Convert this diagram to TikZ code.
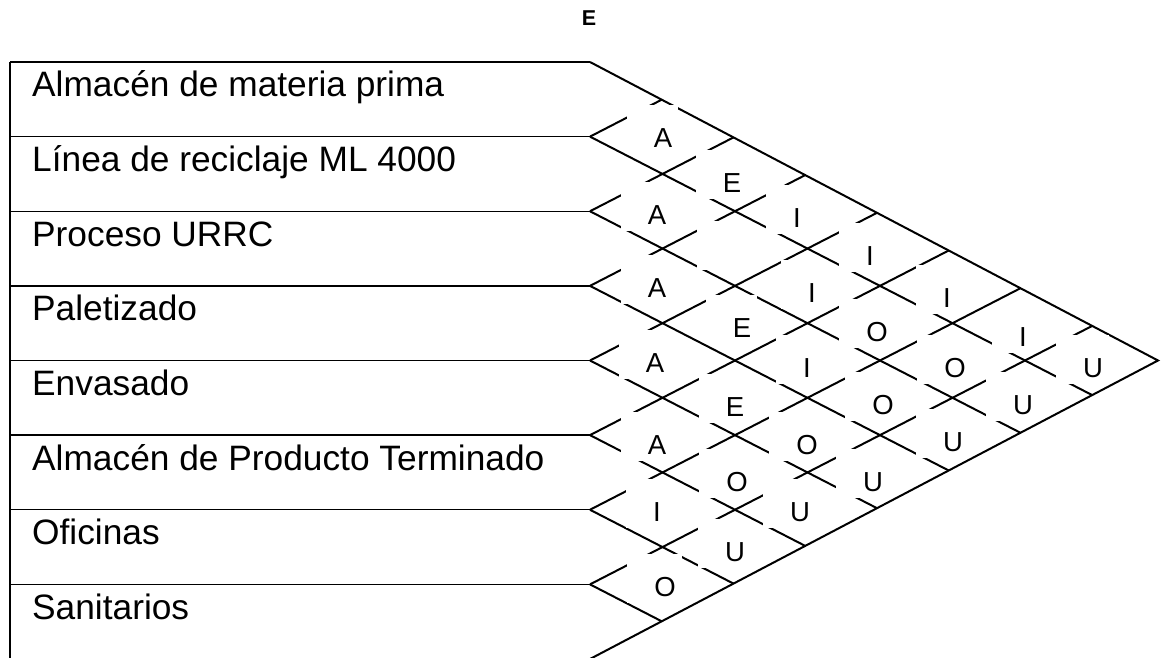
\documentclass[tikz,border=0pt]{standalone}
\usepackage{fontspec}
\setmainfont{Liberation Sans}
\usetikzlibrary{calc}
\pgfdeclarelayer{lines}
\pgfdeclarelayer{boxes}
\pgfsetlayers{lines,boxes,main}
\begin{document}
\begin{tikzpicture}[x=1pt,y=-1pt,
  dept/.style={anchor=base west,inner sep=0pt,font=\fontsize{35.3}{40}\selectfont},
  rel/.style={inner sep=0pt,font=\fontsize{27.5}{32}\selectfont},
  head/.style={inner sep=0pt,font=\fontsize{21.5}{24}\selectfont\bfseries},
  gridline/.style={line width=2pt},
  rowline/.style={line width=1.3pt},
  cover/.style={fill=white}]
\useasboundingbox (0,0) rectangle (1163,658);
% header
\node[head] (hdr) at (589,18) {E};
% frame coordinates
\coordinate (T) at (590,62);
\coordinate (P) at (1158,360.5);
\coordinate (B) at (590,659);
\coordinate (TL) at (10,62);
\coordinate (BL) at (10,662);
\begin{pgfonlayer}{lines}
  \draw[rowline] (TL) -- (BL);
  \foreach \k in {0,...,7}{
    \draw[rowline] (10,{62+74.625*\k}) -- (590,{62+74.625*\k});
  }
  \draw[gridline,line join=miter] (T) -- (P) -- (B);
  \foreach \k/\dx/\dy/\ux/\uy in {
    1/1092.2/395.1/661.7/99.7,
    2/1020.5/432.8/733.5/137.4,
    3/948.7/470.5/805.2/175.1,
    4/877.0/508.2/877.0/212.8,
    5/805.2/545.9/948.7/250.5,
    6/733.5/583.6/1020.5/288.2,
    7/661.7/621.3/1092.2/325.9}{
    \coordinate (L\k) at (590,{62+74.625*\k});
    \coordinate (D\k) at (\dx,\dy);
    \coordinate (U\k) at (\ux,\uy);
    \draw[gridline] (L\k) -- (D\k);
    \draw[gridline] (L\k) -- (U\k);
  }
\end{pgfonlayer}
% department names
\foreach \k/\t in {0/{Almacén de materia prima},1/{Línea de reciclaje ML 4000},2/{Proceso URRC},3/{Paletizado},4/{Envasado},5/{Almacén de Producto Terminado},6/{Oficinas},7/{Sanitarios}}{
  \node[dept] (d\k) at (32,{62+74.625*\k+35}) {\t};
}
% relationship letters
\foreach \n/\x/\y/\t in {
  a1b2/663/138/A, a2b3/732/183/E, a1b4/657/215/A, a3b4/797/218/I,
  a4b5/870/256/I, a1b6/657/288/A, a3b6/812/293/I, a5b6/947/298/I,
  a2b7/742/328/E, a4b7/877/332/O, a6b7/1023/337/I, a1b8/655/363/A,
  a3b8/807/368/I, a5b8/955/368/O, a7b8/1093/368/U, a2b9/735/407/E,
  a4b9/883/405/O, a6b9/1023/405/U, a1b10/657/445/A, a3b10/807/445/O,
  a5b10/953/442/U, a2b11/737/482/O, a4b11/873/482/U, a1b12/657/512/I,
  a3b12/800/512/U, a2b13/735/552/U, a1b14/665/587/O}{
  \node[rel] (\n) at (\x,\y) {\t};
}
\coordinate (a2b5) at (732,254);
\begin{pgfonlayer}{boxes}
  \foreach \n in {a1b2,a2b3,a1b4,a3b4,a4b5,a1b6,a3b6,a5b6,a2b7,a4b7,a6b7,a1b8,
    a3b8,a5b8,a7b8,a2b9,a4b9,a6b9,a1b10,a3b10,a5b10,a2b11,a4b11,a1b12,a3b12,a2b13,a1b14}{
    \fill[cover] ($(\n.west)+(-27,-33)$) rectangle ($(\n.east)+(6,16)$);
  }
  \fill[cover] ($(a2b5)+(-35,-33)$) rectangle ($(a2b5)+(15,16)$);
\end{pgfonlayer}
\end{tikzpicture}
\end{document}
